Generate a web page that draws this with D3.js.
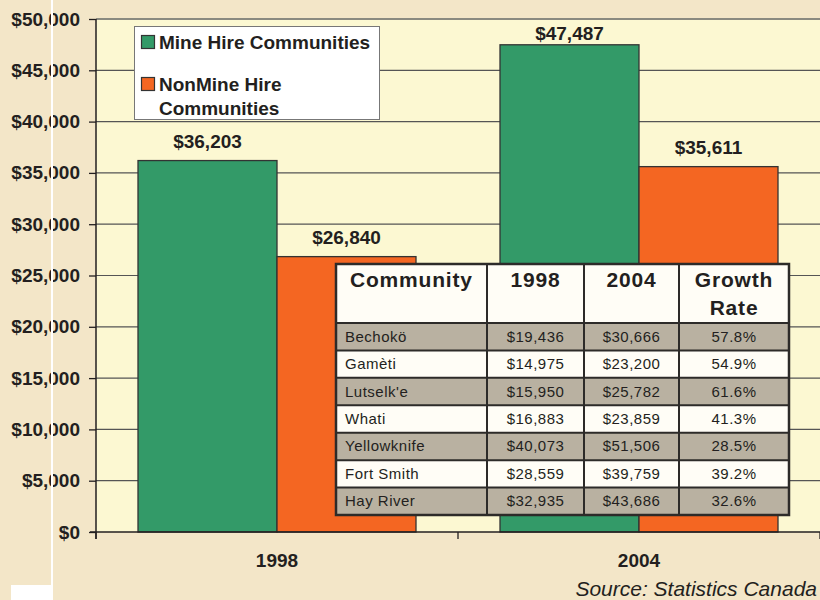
<!DOCTYPE html>
<html>
<head>
<meta charset="utf-8">
<script src="https://cdn.jsdelivr.net/npm/d3@7"></script>
<style>
  body { margin: 0; background: #f3e6c8; }
  svg { display: block; font-family: "Liberation Sans", Arial, sans-serif; }
</style>
</head>
<body>
<div id="chart"></div>
<script>
// chart data
var years = ['1998', '2004'];
var seriesNames = ['Mine Hire Communities', 'NonMine Hire Communities'];
var mineHire = [36203, 47487];
var nonMineHire = [26840, 35611];
var yTicks = [0, 5000, 10000, 15000, 20000, 25000, 30000, 35000, 40000, 45000, 50000];

// table data
var tableHeader = ['Community', '1998', '2004', 'Growth Rate'];
var communities = ['Bechokö', 'Gamèti', "Lutselk'e", 'Whati', 'Yellowknife', 'Fort Smith', 'Hay River'];
var income1998 = ['$19,436', '$14,975', '$15,950', '$16,883', '$40,073', '$28,559', '$32,935'];
var income2004 = ['$30,666', '$23,200', '$25,782', '$23,859', '$51,506', '$39,759', '$43,686'];
var growthRate = ['57.8%', '54.9%', '61.6%', '41.3%', '28.5%', '39.2%', '32.6%'];

var width = 820, height = 600;
var colors = ['#339a68', '#f46622'];
var ink = '#231f20';

var svg = d3.select('#chart')
    .append('svg')
    .attr('width', width)
    .attr('height', height);

svg.append('rect')
    .attr('width', width)
    .attr('height', height)
    .attr('fill', '#f3e6c8');

var plot = { left: 96, right: 820, top: 19, bottom: 532 };

var x0 = d3.scaleBand()
    .domain(years)
    .range([plot.left, plot.right]);
var x1 = d3.scaleBand()
    .domain([0, 1])
    .range([42, x0.bandwidth() - 42]);
var y = d3.scaleLinear()
    .domain([0, 50000])
    .range([plot.bottom, plot.top]);

// plot background
svg.append('rect')
    .attr('x', plot.left)
    .attr('y', plot.top)
    .attr('width', plot.right - plot.left)
    .attr('height', plot.bottom - plot.top)
    .attr('fill', '#fcf8d2');

// grid lines
svg.append('g')
    .selectAll('line')
    .data(yTicks.slice(1))
    .join('line')
    .attr('x1', plot.left)
    .attr('x2', plot.right)
    .attr('y1', d => y(d))
    .attr('y2', d => y(d))
    .attr('stroke', d => d === 50000 ? '#8a8a80' : '#555')
    .attr('stroke-width', d => d === 50000 ? 2 : 1.2);

// y axis
var yAxis = svg.append('g')
    .attr('transform', `translate(${plot.left},0)`)
    .call(d3.axisLeft(y)
        .tickValues(yTicks)
        .tickSize(7)
        .tickPadding(9)
        .tickFormat(d => '$' + d3.format(',')(d)));
yAxis.select('.domain').remove();
yAxis.selectAll('.tick line').attr('stroke', ink).attr('stroke-width', 1.3);
yAxis.selectAll('.tick text')
    .attr('fill', ink)
    .style('font-size', '19px')
    .style('font-weight', 'bold');

// x axis
var xAxis = svg.append('g')
    .attr('transform', `translate(0,${plot.bottom})`)
    .call(d3.axisBottom(x0).tickSize(0).tickPadding(22));
xAxis.select('.domain').remove();
xAxis.selectAll('.tick text')
    .attr('fill', ink)
    .style('font-size', '19px')
    .style('font-weight', 'bold');
svg.append('g')
    .selectAll('line')
    .data([plot.left, x0('2004'), plot.right])
    .join('line')
    .attr('x1', d => d)
    .attr('x2', d => d)
    .attr('y1', plot.bottom)
    .attr('y2', plot.bottom + 7)
    .attr('stroke', ink)
    .attr('stroke-width', 1.3);

// bars
var barData = [];
years.forEach(function (yr, i) {
    barData.push({ year: yr, s: 0, v: mineHire[i] });
    barData.push({ year: yr, s: 1, v: nonMineHire[i] });
});

svg.append('g')
    .selectAll('rect')
    .data(barData)
    .join('rect')
    .attr('x', d => x0(d.year) + x1(d.s))
    .attr('y', d => y(d.v))
    .attr('width', x1.bandwidth())
    .attr('height', d => plot.bottom - y(d.v))
    .attr('fill', d => colors[d.s])
    .attr('stroke', '#333')
    .attr('stroke-width', 1.3);

// value labels, kept inside the plot area
svg.append('g')
    .selectAll('text')
    .data(barData)
    .join('text')
    .attr('x', d => x0(d.year) + x1(d.s) + x1.bandwidth() / 2)
    .attr('y', d => Math.max(y(d.v) - 13, plot.top + 21))
    .attr('text-anchor', 'middle')
    .attr('fill', ink)
    .style('font-size', '19px')
    .style('font-weight', 'bold')
    .text(d => '$' + d3.format(',')(d.v));

// axis lines
svg.append('line')
    .attr('x1', plot.left).attr('x2', plot.left)
    .attr('y1', plot.top).attr('y2', plot.bottom + 7)
    .attr('stroke', ink).attr('stroke-width', 1.5);
svg.append('line')
    .attr('x1', plot.left - 6).attr('x2', plot.right)
    .attr('y1', plot.bottom).attr('y2', plot.bottom)
    .attr('stroke', ink).attr('stroke-width', 1.5);

// legend
var legend = svg.append('g');
legend.append('rect')
    .attr('x', 134.5).attr('y', 26.5)
    .attr('width', 245).attr('height', 93)
    .attr('fill', '#fff')
    .attr('stroke', '#777');
var legendLines = [['Mine Hire Communities'], ['NonMine Hire', 'Communities']];
var legendY = [35, 77];
seriesNames.forEach(function (name, i) {
    legend.append('rect')
        .attr('x', 141.5).attr('y', legendY[i] + 0.5)
        .attr('width', 13).attr('height', 13)
        .attr('fill', colors[i])
        .attr('stroke', '#333')
        .attr('stroke-width', 1.2);
    legendLines[i].forEach(function (line, j) {
        legend.append('text')
            .attr('x', 159)
            .attr('y', legendY[i] + 14 + j * 24)
            .attr('fill', ink)
            .style('font-size', '19px')
            .style('font-weight', 'bold')
            .text(line);
    });
});

// table
var table = svg.append('g');
var colEdges = [336, 487, 584, 679, 789];
var headTop = 264, headBottom = 323;
var rowY = d3.scaleBand()
    .domain(d3.range(communities.length))
    .range([headBottom, 515]);

table.append('rect')
    .attr('x', colEdges[0]).attr('y', headTop)
    .attr('width', colEdges[4] - colEdges[0])
    .attr('height', headBottom - headTop)
    .attr('fill', '#fffdf6');

table.selectAll('rect.row')
    .data(communities)
    .join('rect')
    .attr('class', 'row')
    .attr('x', colEdges[0])
    .attr('y', (d, i) => rowY(i))
    .attr('width', colEdges[4] - colEdges[0])
    .attr('height', rowY.bandwidth())
    .attr('fill', (d, i) => i % 2 === 0 ? '#b9b1a1' : '#fffdf6');

// horizontal rules
table.selectAll('line.h')
    .data([headBottom].concat(d3.range(1, communities.length).map(i => rowY(i))))
    .join('line')
    .attr('class', 'h')
    .attr('x1', colEdges[0]).attr('x2', colEdges[4])
    .attr('y1', d => d).attr('y2', d => d)
    .attr('stroke', '#2d2b29')
    .attr('stroke-width', 2);
// vertical rules
table.selectAll('line.v')
    .data(colEdges.slice(1, 4))
    .join('line')
    .attr('class', 'v')
    .attr('x1', d => d).attr('x2', d => d)
    .attr('y1', headTop).attr('y2', 515)
    .attr('stroke', '#2d2b29')
    .attr('stroke-width', 2);
table.append('rect')
    .attr('x', colEdges[0]).attr('y', headTop)
    .attr('width', colEdges[4] - colEdges[0])
    .attr('height', 515 - headTop)
    .attr('fill', 'none')
    .attr('stroke', '#2d2b29')
    .attr('stroke-width', 2.5);

// header text
var headerLines = [['Community'], ['1998'], ['2004'], ['Growth', 'Rate']];
headerLines.forEach(function (lines, c) {
    lines.forEach(function (line, j) {
        table.append('text')
            .attr('x', c === 0 ? colEdges[0] + 14 : (colEdges[c] + colEdges[c + 1]) / 2)
            .attr('y', 287 + j * 28)
            .attr('text-anchor', c === 0 ? 'start' : 'middle')
            .attr('fill', ink)
            .style('font-size', '21px')
            .style('font-weight', 'bold')
            .style('letter-spacing', '0.8px')
            .text(line);
    });
});

// body text
var columns = [communities, income1998, income2004, growthRate];
columns.forEach(function (col, c) {
    table.selectAll('text.c' + c)
        .data(col)
        .join('text')
        .attr('class', 'c' + c)
        .attr('x', c === 0 ? colEdges[0] + 9 : (colEdges[c] + colEdges[c + 1]) / 2)
        .attr('y', (d, i) => rowY(i) + rowY.bandwidth() / 2 + 5)
        .attr('text-anchor', c === 0 ? 'start' : 'middle')
        .attr('fill', ink)
        .style('font-size', '15px')
        .style('letter-spacing', '0.5px')
        .text(d => d);
});

// source note
svg.append('text')
    .attr('x', 817)
    .attr('y', 596)
    .attr('text-anchor', 'end')
    .attr('fill', ink)
    .style('font-size', '21px')
    .style('font-style', 'italic')
    .text('Source: Statistics Canada');

// scan marks on the original page
svg.append('rect')
    .attr('x', 51).attr('y', 0)
    .attr('width', 2).attr('height', height)
    .attr('fill', '#fff');
svg.append('rect')
    .attr('x', 11).attr('y', 585)
    .attr('width', 40).attr('height', 15)
    .attr('fill', '#fff');
</script>
</body>
</html>
